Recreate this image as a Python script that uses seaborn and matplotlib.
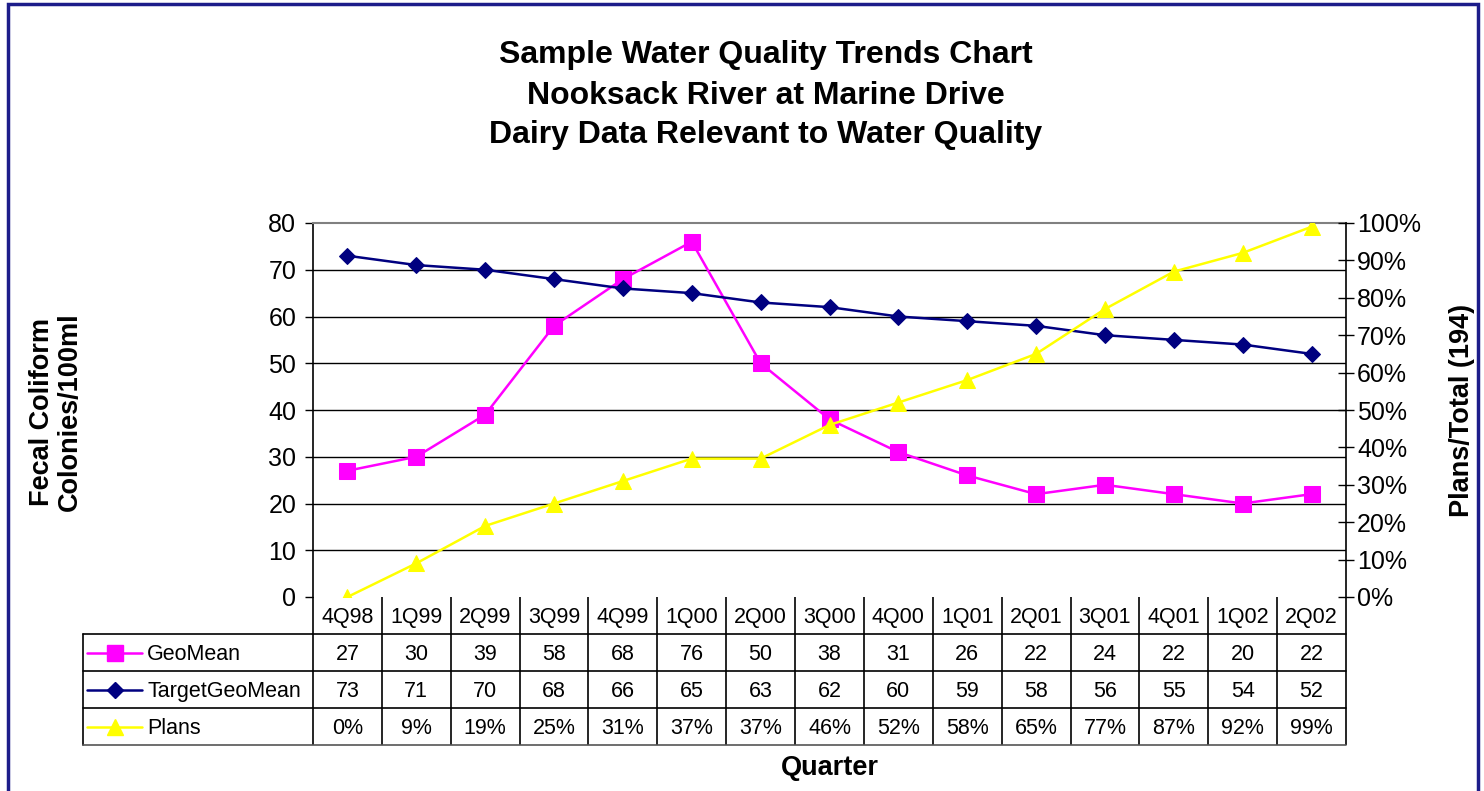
import matplotlib
matplotlib.use("Agg")
import matplotlib.pyplot as plt
import seaborn as sns
import numpy as np
from matplotlib.ticker import FuncFormatter
from matplotlib.patches import Rectangle

quarters = ["4Q98", "1Q99", "2Q99", "3Q99", "4Q99", "1Q00", "2Q00", "3Q00",
            "4Q00", "1Q01", "2Q01", "3Q01", "4Q01", "1Q02", "2Q02"]
geomean = [27, 30, 39, 58, 68, 76, 50, 38, 31, 26, 22, 24, 22, 20, 22]
target_geomean = [73, 71, 70, 68, 66, 65, 63, 62, 60, 59, 58, 56, 55, 54, 52]
plans_pct = [0, 9, 19, 25, 31, 37, 37, 46, 52, 58, 65, 77, 87, 92, 99]

sns.set_style("white")
plt.rcParams["font.family"] = ["Liberation Sans", "DejaVu Sans"]
plt.rcParams["text.color"] = "black"
plt.rcParams["xtick.color"] = "black"
plt.rcParams["ytick.color"] = "black"
plt.rcParams["axes.labelcolor"] = "black"

W, H = 1484, 791
fig = plt.figure(figsize=(W / 100, H / 100), dpi=100)
fig.patch.set_facecolor("white")

def fx(px):
    return px / W

def fy(py):
    return 1 - py / H

# frame around figure (bottom edge runs off the canvas, as in the reference)
fig.patches.append(Rectangle((fx(8), fy(800)), fx(1478 - 8), (800 - 4) / H,
                             transform=fig.transFigure, fill=False,
                             edgecolor="#1c1c8a", linewidth=2.5, zorder=10))

L, R, T, B = 313, 1346, 223, 597
ax = fig.add_axes([fx(L), fy(B), fx(R - L), (B - T) / H])
x = np.arange(len(quarters))

ax.set_xlim(-0.5, len(quarters) - 0.5)
ax.set_ylim(0, 80)
ax.set_yticks(range(0, 81, 10))
ax.set_xticks([])
for yv in range(10, 80, 10):
    ax.axhline(yv, color="black", linewidth=1.0, zorder=1)
for side in ["bottom", "right"]:
    ax.spines[side].set_visible(False)
ax.spines["top"].set_color("#808080")
ax.spines["top"].set_linewidth(1.5)
ax.spines["left"].set_color("black")
ax.spines["left"].set_linewidth(1.2)
ax.tick_params(axis="y", direction="out", length=6, width=1, labelsize=18, pad=6, left=True,
               colors="black")

sns.lineplot(x=x, y=geomean, ax=ax, color="#FF00FF", marker="s", markersize=11,
             markeredgecolor="#FF00FF", linewidth=1.8, zorder=4)
sns.lineplot(x=x, y=target_geomean, ax=ax, color="#000080", marker="D", markersize=8.5,
             markeredgecolor="#000080", linewidth=1.8, zorder=4)

ax2 = ax.twinx()
ax2.set_ylim(0, 100)
ax2.set_yticks(range(0, 101, 10))
ax2.yaxis.set_major_formatter(FuncFormatter(lambda v, p: f"{int(v)}%"))
for side in ["bottom", "left", "top"]:
    ax2.spines[side].set_visible(False)
ax2.spines["right"].set_color("black")
ax2.spines["right"].set_linewidth(1.2)
ax2.tick_params(axis="y", direction="inout", length=12, width=1, labelsize=18, pad=2, right=True,
                colors="black")
sns.lineplot(x=x, y=plans_pct, ax=ax2, color="#FFFF00", marker="^", markersize=12,
             markeredgecolor="#FFFF00", linewidth=1.8, zorder=4)
ax2.set_xlim(-0.5, len(quarters) - 0.5)
ax2.set_xticks([])

# Data table
TL, TT, TB = 83, 597, 745
tax = fig.add_axes([fx(TL), fy(TB), fx(R - TL), (TB - TT) / H])
colw = (R - L) / len(quarters)
xmin = -0.5 - (L - TL) / colw
tax.set_xlim(xmin, len(quarters) - 0.5)
tax.set_ylim(4, 0)
tax.axis("off")
lc = "black"
lw = 1.2
for k in range(len(quarters) + 1):
    tax.plot([k - 0.5, k - 0.5], [0, 4], color=lc, lw=lw, solid_capstyle="butt", clip_on=False)
tax.plot([xmin, xmin], [1, 4], color=lc, lw=lw, clip_on=False)
for r in [1, 2, 3, 4]:
    tax.plot([xmin, len(quarters) - 0.5], [r, r], color=lc if r < 4 else "#555555", lw=lw, clip_on=False)

fs_t = 15.5
for i, q in enumerate(quarters):
    tax.text(i, 0.55, q, ha="center", va="center", fontsize=fs_t)
    tax.text(i, 1.55, str(geomean[i]), ha="center", va="center", fontsize=fs_t)
    tax.text(i, 2.55, str(target_geomean[i]), ha="center", va="center", fontsize=fs_t)
    tax.text(i, 3.55, f"{plans_pct[i]}%", ha="center", va="center", fontsize=fs_t)

series = [("GeoMean", "#FF00FF", "s", 11), ("TargetGeoMean", "#000080", "D", 8.5),
          ("Plans", "#FFFF00", "^", 12)]
x0 = xmin + 4 / colw
x1 = xmin + 59 / colw
xm = (x0 + x1) / 2
xt = xmin + 64 / colw
for r, (name, c, m, ms) in enumerate(series):
    yy = r + 1.5
    tax.plot([x0, x1], [yy, yy], color=c, lw=1.8)
    tax.plot([xm], [yy], marker=m, color=c, markersize=ms, markeredgecolor=c)
    tax.text(xt, yy + 0.05, name, ha="left", va="center", fontsize=fs_t)

# Titles and labels
for txt, yp in [("Sample Water Quality Trends Chart", 55),
                ("Nooksack River at Marine Drive", 96),
                ("Dairy Data Relevant to Water Quality", 135)]:
    fig.text(fx(766), fy(yp), txt, ha="center", va="center", fontsize=23, fontweight="bold")
fig.text(fx(56), fy(412), "Fecal Coliform\nColonies/100ml", ha="center", va="center",
         rotation=90, fontsize=19.5, fontweight="bold", linespacing=1.1)
fig.text(fx(1462), fy(410), "Plans/Total (194)", ha="center", va="center",
         rotation=90, fontsize=19.5, fontweight="bold")
fig.text(fx(830), fy(768), "Quarter", ha="center", va="center",
         fontsize=19.5, fontweight="bold")

fig.savefig("out.png", dpi=100, facecolor="white")
